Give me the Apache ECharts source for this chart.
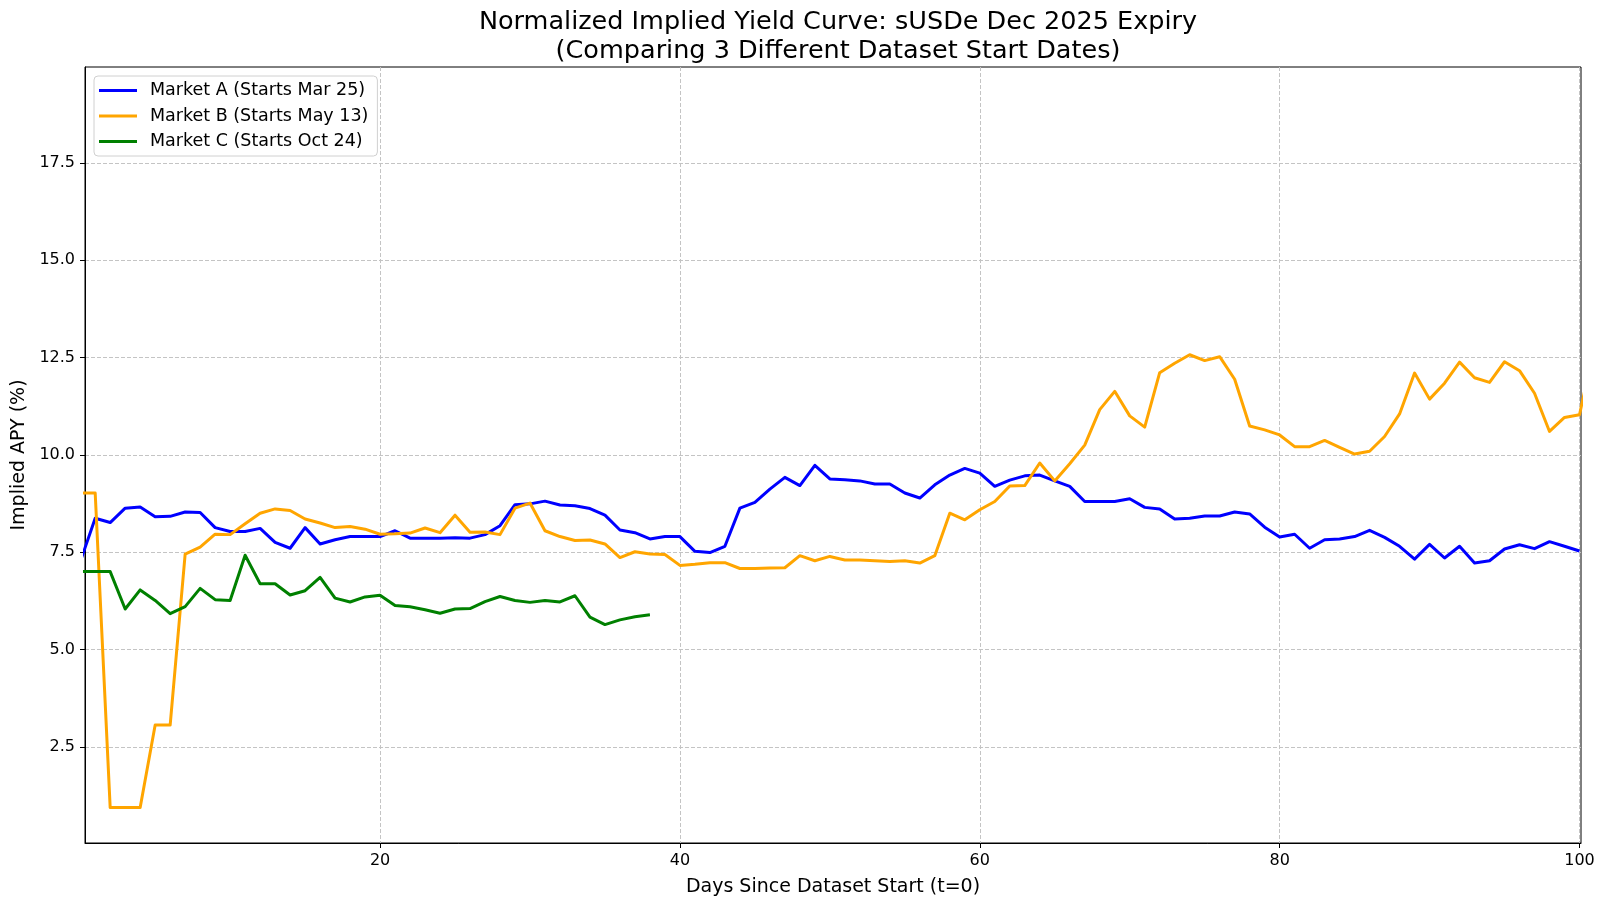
<!DOCTYPE html>
<html>
<head>
<meta charset="utf-8">
<script src="https://cdn.jsdelivr.net/npm/echarts@6/dist/echarts.min.js"></script>
<style>html,body{margin:0;padding:0;background:#fff}#c{width:1600px;height:904px}</style>
</head>
<body>
<div id="c"></div>
<script>
const titleText = 'Normalized Implied Yield Curve: sUSDe Dec 2025 Expiry\n(Comparing 3 Different Dataset Start Dates)';
const xTickValues = [20, 40, 60, 80, 100];
const yTickValues = [2.5, 5.0, 7.5, 10.0, 12.5, 15.0, 17.5];
const seriesNames = ['Market A (Starts Mar 25)', 'Market B (Starts May 13)', 'Market C (Starts Oct 24)'];
// values per day index (day 0, 1, 2, ...)
const marketA = [7.25, 8.37, 8.26, 8.63, 8.66, 8.41, 8.42, 8.53, 8.52, 8.13,
  8.03, 8.03, 8.11, 7.75, 7.60, 8.13, 7.71, 7.82, 7.90, 7.90,
  7.90, 8.05, 7.86, 7.86, 7.86, 7.87, 7.86, 7.95, 8.18, 8.72,
  8.74, 8.81, 8.71, 8.69, 8.62, 8.45, 8.07, 8.00, 7.84, 7.90,
  7.90, 7.52, 7.49, 7.65, 8.63, 8.78, 9.12, 9.42, 9.21, 9.73,
  9.38, 9.36, 9.33, 9.25, 9.25, 9.02, 8.89, 9.23, 9.48, 9.65,
  9.53, 9.19, 9.35, 9.46, 9.48, 9.33, 9.19, 8.80, 8.80, 8.80,
  8.87, 8.65, 8.61, 8.35, 8.37, 8.43, 8.43, 8.53, 8.48, 8.14,
  7.89, 7.96, 7.60, 7.82, 7.84, 7.90, 8.06, 7.88, 7.65, 7.32,
  7.70, 7.35, 7.65, 7.22, 7.28, 7.58, 7.69, 7.59, 7.77, 7.65,
  7.53];
const marketB = [9.02, 9.02, 0.94, 0.94, 0.94, 3.06, 3.06, 7.45, 7.63, 7.96,
  7.95, 8.23, 8.50, 8.61, 8.57, 8.35, 8.25, 8.13, 8.16, 8.09,
  7.96, 7.97, 7.99, 8.12, 8.00, 8.45, 8.01, 8.02, 7.95, 8.63,
  8.76, 8.05, 7.90, 7.80, 7.81, 7.71, 7.36, 7.51, 7.45, 7.44,
  7.16, 7.19, 7.23, 7.23, 7.08, 7.08, 7.09, 7.10, 7.41, 7.28,
  7.39, 7.30, 7.30, 7.28, 7.26, 7.28, 7.22, 7.41, 8.50, 8.33,
  8.59, 8.80, 9.20, 9.21, 9.79, 9.33, 9.77, 10.25, 11.16, 11.63,
  11.00, 10.71, 12.11, 12.35, 12.57, 12.42, 12.52, 11.94, 10.74, 10.64,
  10.51, 10.21, 10.21, 10.37, 10.19, 10.02, 10.09, 10.47, 11.05, 12.10,
  11.43, 11.84, 12.38, 11.98, 11.86, 12.39, 12.16, 11.58, 10.60, 10.96,
  11.03, 12.8];
const marketC = [7.00, 7.00, 7.00, 6.04, 6.53, 6.26, 5.92, 6.10, 6.57, 6.28,
  6.26, 7.42, 6.69, 6.69, 6.40, 6.51, 6.85, 6.32, 6.22, 6.35,
  6.39, 6.13, 6.10, 6.02, 5.93, 6.04, 6.05, 6.23, 6.36, 6.26,
  6.21, 6.26, 6.22, 6.38, 5.83, 5.64, 5.76, 5.84, 5.89];
const colors = ['#0000ff', '#ffa500', '#008000'];

const toPairs = arr => arr.map((v, i) => [i, v]);
const FONT = 'DejaVu Sans';

const chart = echarts.init(document.getElementById('c'), null, {renderer: 'canvas'});
const gridLine = {show: true, lineStyle: {color: '#c4c4c4', width: 1, type: [4, 2]}};
chart.setOption({
  animation: false,
  backgroundColor: '#fff',
  textStyle: {fontFamily: FONT, color: '#000'},
  title: {
    text: titleText,
    left: 833, top: 3, textAlign: 'center',
    textStyle: {fontFamily: FONT, fontSize: 25.5, fontWeight: 'normal', color: '#000', lineHeight: 29}
  },
  legend: {
    orient: 'vertical', left: 94, top: 76,
    padding: [5, 9, 5, 5],
    itemGap: 6.5, itemWidth: 38, itemHeight: 3,
    icon: 'rect',
    borderColor: '#d0d0d0', borderWidth: 1, borderRadius: 4,
    backgroundColor: 'rgba(255,255,255,0.8)',
    textStyle: {fontFamily: FONT, fontSize: 17.5, color: '#000', lineHeight: 19, padding: [0, 0, 0, 8]},
    data: seriesNames
  },
  grid: {left: 85, right: 19, top: 67, bottom: 61, show: true, borderColor: '#000', borderWidth: 1, containLabel: false},
  xAxis: {
    type: 'value', min: 0.32, max: 100.1,
    name: 'Days Since Dataset Start (t=0)', nameLocation: 'middle', nameGap: 35,
    nameTextStyle: {fontFamily: FONT, fontSize: 19, color: '#000'},
    axisLine: {show: true, onZero: false, lineStyle: {color: '#000', width: 1}},
    axisTick: {show: true, length: 5, lineStyle: {color: '#000'}, customValues: xTickValues},
    axisLabel: {margin: 10, fontFamily: FONT, fontSize: 16, color: '#000', customValues: xTickValues, formatter: v => String(Math.round(v))},
    splitLine: gridLine
  },
  yAxis: {
    type: 'value', min: 0.03, max: 19.96,
    name: 'Implied APY (%)', nameLocation: 'middle', nameGap: 52,
    nameTextStyle: {fontFamily: FONT, fontSize: 19, color: '#000'},
    axisLine: {show: true, onZero: false, lineStyle: {color: '#000', width: 1}},
    axisTick: {show: true, length: 5, lineStyle: {color: '#000'}, customValues: yTickValues},
    axisLabel: {margin: 10, fontFamily: FONT, fontSize: 16, color: '#000', customValues: yTickValues, formatter: v => v.toFixed(1)},
    splitLine: gridLine
  },
  series: [marketA, marketB, marketC].map((arr, k) => ({
    name: seriesNames[k], type: 'line', data: toPairs(arr),
    showSymbol: false, symbol: 'none', clip: true,
    lineStyle: {color: colors[k], width: 3, join: 'round'},
    itemStyle: {color: colors[k]}
  }))
});
</script>
</body>
</html>
